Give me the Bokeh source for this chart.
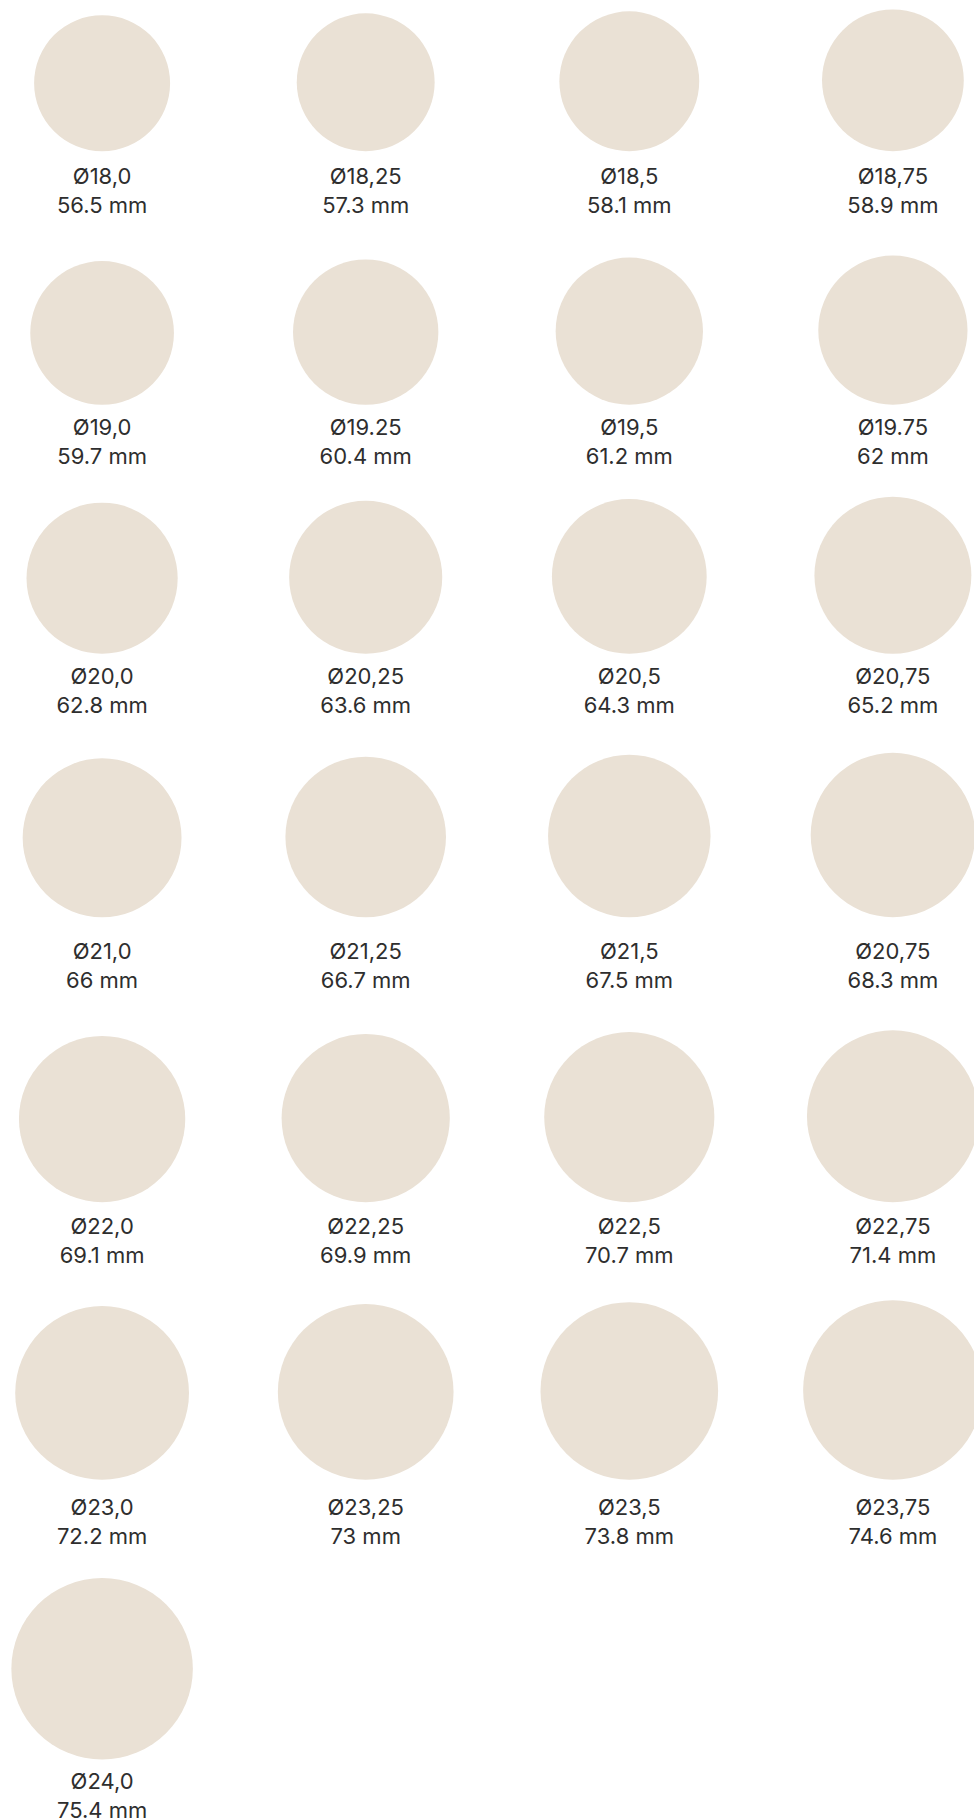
from bokeh.plotting import figure
from bokeh.models import Range1d, ColumnDataSource
from bokeh.core.properties import value
from bokeh.embed import file_html
from bokeh.resources import INLINE

# ---- data ----
ring_sizes = [
    "Ø18,0", "Ø18,25", "Ø18,5", "Ø18,75",
    "Ø19,0", "Ø19.25", "Ø19,5", "Ø19.75",
    "Ø20,0", "Ø20,25", "Ø20,5", "Ø20,75",
    "Ø21,0", "Ø21,25", "Ø21,5", "Ø20,75",
    "Ø22,0", "Ø22,25", "Ø22,5", "Ø22,75",
    "Ø23,0", "Ø23,25", "Ø23,5", "Ø23,75",
    "Ø24,0",
]
circumference_mm = [
    56.5, 57.3, 58.1, 58.9,
    59.7, 60.4, 61.2, 62,
    62.8, 63.6, 64.3, 65.2,
    66, 66.7, 67.5, 68.3,
    69.1, 69.9, 70.7, 71.4,
    72.2, 73, 73.8, 74.6,
    75.4,
]

# ---- layout (screen pixels) ----
W, H = 974, 1820
COLS = 4
COL_X0, COL_STEP = 101.6, 263.6
PX_PER_MM = 2.407
ROW_BOTTOM = [150.7, 404.3, 653.3, 916.7, 1201.7, 1479.3, 1759.0]
ROW_TEXT = [175.0, 426.0, 675.5, 950.0, 1225.5, 1506.0, 1780.0]
LINE_GAP = 29.0

xs, ys, rs, t1y, t2y, mm_labels = [], [], [], [], [], []
for i, v in enumerate(circumference_mm):
    r, c = divmod(i, COLS)
    rad = v * PX_PER_MM / 2
    xs.append(COL_X0 + c * COL_STEP)
    ys.append(ROW_BOTTOM[r] - rad)
    rs.append(rad)
    t1y.append(ROW_TEXT[r])
    t2y.append(ROW_TEXT[r] + LINE_GAP)
    mm_labels.append(f"{v:g} mm")

src = ColumnDataSource(dict(x=xs, y=ys, r=rs, t1=t1y, t2=t2y,
                            size=ring_sizes, mm=mm_labels))

p = figure(width=W, height=H, output_backend="svg", toolbar_location=None,
           x_range=Range1d(0, W), y_range=Range1d(H, 0),
           min_border=0, background_fill_color="white", border_fill_color="white")
p.axis.visible = False
p.grid.visible = False
p.outline_line_color = None

p.circle(x="x", y="y", radius="r", source=src,
         fill_color="#EAE1D5", line_color=None)

for col, txt in (("t1", "size"), ("t2", "mm")):
    p.text(x="x", y=col, text=txt, source=src,
           text_align="center", text_baseline="middle",
           text_font=value("Inter"), text_font_size="22px",
           text_color="#2e2e2e")

open("out.html", "w").write(file_html(p, INLINE))
